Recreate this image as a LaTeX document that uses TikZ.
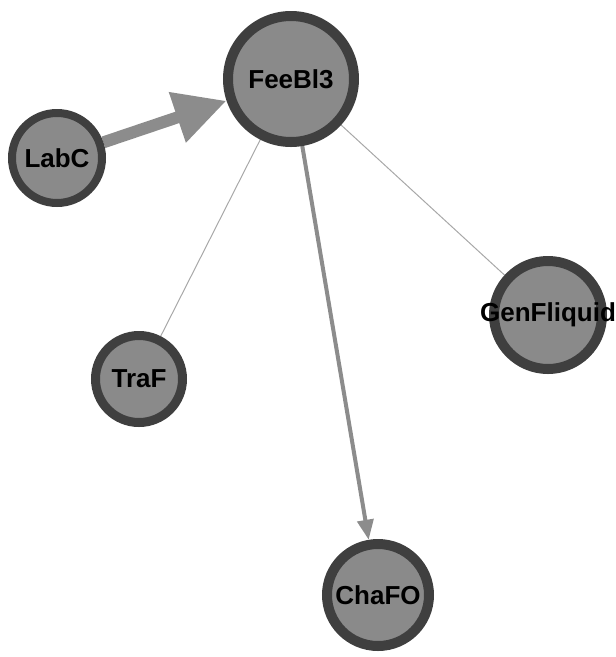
\documentclass[tikz,border=0pt]{standalone}
\usepackage{fontspec}
\setmainfont{Liberation Sans}
\usetikzlibrary{arrows.meta,backgrounds}
\definecolor{nodefill}{HTML}{8A8A8A}
\definecolor{nodeborder}{HTML}{3F3F3F}
\definecolor{edgecol}{HTML}{8C8C8C}
\definecolor{thincol}{HTML}{A8A8A8}
\begin{document}
\begin{tikzpicture}[x=1pt,y=-1pt,
  vertex/.style={circle,fill=nodefill,draw=nodeborder,inner sep=0pt,
    font=\fontsize{26}{30}\selectfont\bfseries},
  thinedge/.style={draw=thincol,line width=1pt},
  bigarrow/.style={draw=edgecol,line width=12pt,-{Triangle[length=52pt,width=50pt]}},
  midarrow/.style={draw=edgecol,line width=4pt,-{Triangle[length=20pt,width=16pt]}}]
\useasboundingbox (0,0) rectangle (616,657);
\node[vertex,line width=10pt,minimum size=126pt] (fee) at (291,79) {\makebox[0pt][c]{FeeBl3}};
\node[vertex,line width=8pt,minimum size=90pt] (labc) at (57,158) {\makebox[0pt][c]{LabC}};
\node[vertex,line width=9pt,minimum size=87pt] (traf) at (139,379) {\makebox[0pt][c]{TraF}};
\node[vertex,line width=10pt,minimum size=108pt] (gen) at (548,315) {\makebox[0pt][c]{GenFliquid}};
\node[vertex,line width=10pt,minimum size=102pt] (cha) at (378,595) {\makebox[0pt][c]{ChaFO}};
\begin{scope}[on background layer]
\draw[thinedge] (fee) -- (traf);
\draw[thinedge] (fee) -- (gen);
\draw[midarrow] (fee) -- (cha);
\draw[bigarrow] (labc) -- (fee);
\end{scope}
\end{tikzpicture}
\end{document}
